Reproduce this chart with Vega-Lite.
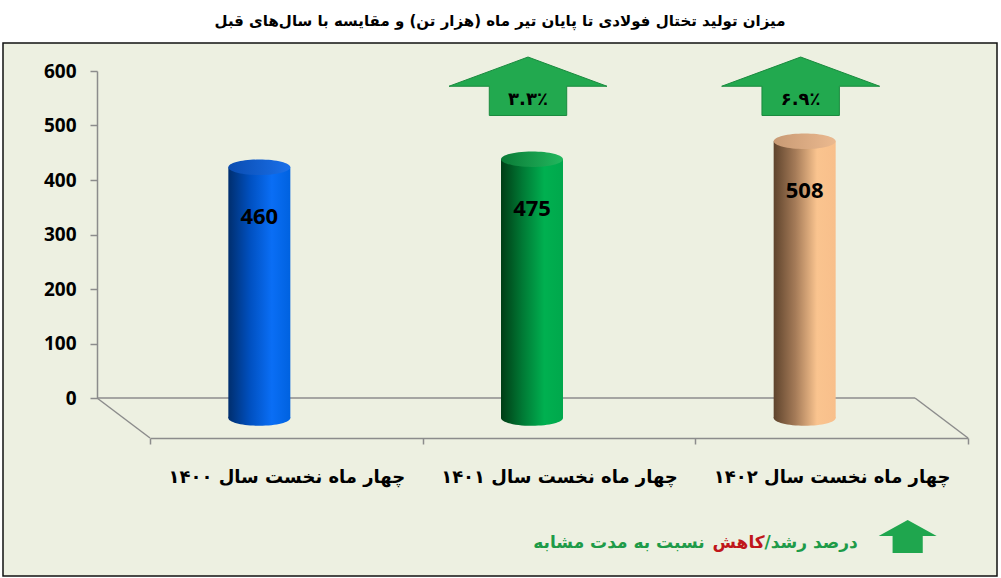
{
  "$schema": "https://vega.github.io/schema/vega-lite/v6.json",
  "width": 994,
  "height": 533,
  "autosize": {"type": "none"},
  "padding": {"left": 3, "top": 43, "right": 4, "bottom": 2},
  "background": "white",
  "view": {"fill": "#EDF0E1", "stroke": "#111111", "strokeWidth": 1.5},
  "title": {
    "text": "میزان تولید تختال فولادی تا پایان تیر ماه (هزار تن) و مقایسه با سال‌های قبل",
    "font": "DejaVu Sans",
    "fontSize": 15,
    "fontWeight": "bold",
    "color": "#000000",
    "anchor": "middle",
    "frame": "group",
    "offset": 14
  },
  "data": {
    "values": [
      {"period": "چهار ماه نخست سال ۱۴۰۰", "year": 1400, "value": 460, "growth": null},
      {"period": "چهار ماه نخست سال ۱۴۰۱", "year": 1401, "value": 475, "growth": "۳.۳٪"},
      {"period": "چهار ماه نخست سال ۱۴۰۲", "year": 1402, "value": 508, "growth": "۶.۹٪"}
    ]
  },
  "encoding": {
    "x": {
      "field": "period",
      "type": "nominal",
      "sort": null,
      "scale": {
        "domain": ["چهار ماه نخست سال ۱۴۰۰", "چهار ماه نخست سال ۱۴۰۱", "چهار ماه نخست سال ۱۴۰۲"],
        "range": [147, 965],
        "paddingInner": 0,
        "paddingOuter": 0
      },
      "axis": {
        "orient": "bottom",
        "offset": -138,
        "title": null,
        "labelAngle": 0,
        "labelLimit": 0,
        "domainColor": "#8C8C8C",
        "domainWidth": 1.5,
        "tickColor": "#8C8C8C",
        "tickWidth": 1.5,
        "tickSize": 6,
        "tickBand": "extent",
        "labelFont": "DejaVu Sans",
        "labelFontWeight": "bold",
        "labelFontSize": 18,
        "labelColor": "#000000",
        "labelPadding": 24
      }
    },
    "y": {
      "field": "value",
      "type": "quantitative",
      "scale": {"domain": [0, 600], "range": [355, 28], "nice": false, "zero": false},
      "axis": {
        "orient": "left",
        "offset": -94,
        "title": null,
        "grid": false,
        "values": [0, 100, 200, 300, 400, 500, 600],
        "domainColor": "#8C8C8C",
        "domainWidth": 1.5,
        "tickColor": "#8C8C8C",
        "tickWidth": 1.5,
        "tickSize": 7,
        "labelFont": "Open Sans",
        "labelFontWeight": "bold",
        "labelFontSize": 19,
        "labelColor": "#000000",
        "labelPadding": 14
      }
    }
  },
  "layer": [
    {
      "transform": [{"filter": "datum.year == 1400"}],
      "mark": {"type": "rule", "color": "#8C8C8C", "strokeWidth": 1.5, "xOffset": -53, "x2Offset": -53},
      "encoding": {
        "x": {"datum": "چهار ماه نخست سال ۱۴۰۰", "bandPosition": 0},
        "x2": {"datum": "چهار ماه نخست سال ۱۴۰۲", "bandPosition": 1},
        "y": {"datum": 0}
      }
    },
    {
      "transform": [{"filter": "datum.year == 1400"}],
      "mark": {"type": "rule", "color": "#8C8C8C", "strokeWidth": 1.5, "xOffset": -53, "y2Offset": 40},
      "encoding": {
        "x": {"datum": "چهار ماه نخست سال ۱۴۰۰", "bandPosition": 0},
        "x2": {"datum": "چهار ماه نخست سال ۱۴۰۰", "bandPosition": 0},
        "y": {"datum": 0},
        "y2": {"datum": 0}
      }
    },
    {
      "transform": [{"filter": "datum.year == 1400"}],
      "mark": {"type": "rule", "color": "#8C8C8C", "strokeWidth": 1.5, "xOffset": -53, "y2Offset": 40},
      "encoding": {
        "x": {"datum": "چهار ماه نخست سال ۱۴۰۲", "bandPosition": 1},
        "x2": {"datum": "چهار ماه نخست سال ۱۴۰۲", "bandPosition": 1},
        "y": {"datum": 0},
        "y2": {"datum": 0}
      }
    },
    {
      "mark": {
        "type": "point",
        "shape": "M-1,0A1,0.25,0,1,0,1,0A1,0.25,0,1,0,-1,0Z",
        "size": 3844,
        "filled": true,
        "opacity": 1,
        "strokeWidth": 0,
        "xOffset": -27,
        "yOffset": 20
      },
      "encoding": {
        "y": {"datum": 0},
        "fill": {
          "condition": [
            {"test": "datum.year == 1401", "value": {"gradient": "linear", "x1": 0, "y1": 0, "x2": 1, "y2": 0, "stops": [{"offset": 0, "color": "#003D15"}, {"offset": 0.35, "color": "#007A35"}, {"offset": 0.7, "color": "#00B050"}, {"offset": 1, "color": "#00A84C"}]}},
            {"test": "datum.year == 1402", "value": {"gradient": "linear", "x1": 0, "y1": 0, "x2": 1, "y2": 0, "stops": [{"offset": 0, "color": "#5E432C"}, {"offset": 0.35, "color": "#A57B58"}, {"offset": 0.7, "color": "#FAC48F"}, {"offset": 1, "color": "#F8BF8B"}]}}
          ],
          "value": {"gradient": "linear", "x1": 0, "y1": 0, "x2": 1, "y2": 0, "stops": [{"offset": 0, "color": "#002E6E"}, {"offset": 0.35, "color": "#0050C0"}, {"offset": 0.7, "color": "#0A6EF5"}, {"offset": 1, "color": "#0062E0"}]}
        }
      }
    },
    {
      "mark": {"type": "bar", "width": 62, "xOffset": -27, "yOffset": 20, "y2Offset": 20},
      "encoding": {
        "y2": {"datum": 0},
        "fill": {
          "condition": [
            {"test": "datum.year == 1401", "value": {"gradient": "linear", "x1": 0, "y1": 0, "x2": 1, "y2": 0, "stops": [{"offset": 0, "color": "#003D15"}, {"offset": 0.35, "color": "#007A35"}, {"offset": 0.7, "color": "#00B050"}, {"offset": 1, "color": "#00A84C"}]}},
            {"test": "datum.year == 1402", "value": {"gradient": "linear", "x1": 0, "y1": 0, "x2": 1, "y2": 0, "stops": [{"offset": 0, "color": "#5E432C"}, {"offset": 0.35, "color": "#A57B58"}, {"offset": 0.7, "color": "#FAC48F"}, {"offset": 1, "color": "#F8BF8B"}]}}
          ],
          "value": {"gradient": "linear", "x1": 0, "y1": 0, "x2": 1, "y2": 0, "stops": [{"offset": 0, "color": "#002E6E"}, {"offset": 0.35, "color": "#0050C0"}, {"offset": 0.7, "color": "#0A6EF5"}, {"offset": 1, "color": "#0062E0"}]}
        }
      }
    },
    {
      "mark": {
        "type": "point",
        "shape": "M-1,0A1,0.25,0,1,0,1,0A1,0.25,0,1,0,-1,0Z",
        "size": 3844,
        "filled": true,
        "opacity": 1,
        "strokeWidth": 0,
        "xOffset": -27,
        "yOffset": 20
      },
      "encoding": {
        "fill": {
          "condition": [
            {"test": "datum.year == 1401", "value": {"gradient": "linear", "x1": 0, "y1": 0, "x2": 1, "y2": 0, "stops": [{"offset": 0, "color": "#0A7A36"}, {"offset": 1, "color": "#22B85E"}]}},
            {"test": "datum.year == 1402", "value": {"gradient": "linear", "x1": 0, "y1": 0, "x2": 1, "y2": 0, "stops": [{"offset": 0, "color": "#C89A74"}, {"offset": 1, "color": "#EBB98F"}]}}
          ],
          "value": {"gradient": "linear", "x1": 0, "y1": 0, "x2": 1, "y2": 0, "stops": [{"offset": 0, "color": "#0A4CB0"}, {"offset": 1, "color": "#1A70EA"}]}
        }
      }
    },
    {
      "mark": {"type": "text", "font": "Open Sans", "fontWeight": "bold", "fontSize": 22, "color": "#000000", "xOffset": -27, "yOffset": 70, "baseline": "middle"},
      "encoding": {"text": {"field": "value", "type": "quantitative"}}
    },
    {
      "transform": [{"filter": "datum.growth != null"}],
      "mark": {
        "type": "point",
        "shape": "M0,-0.37L1,0L0.49,0L0.49,0.37L-0.49,0.37L-0.49,0L-1,0Z",
        "size": 24964,
        "filled": true,
        "opacity": 1,
        "fill": "#22A94F",
        "stroke": "#1A8A3E",
        "strokeWidth": 1,
        "xOffset": -31
      },
      "encoding": {"y": {"datum": 572}}
    },
    {
      "transform": [{"filter": "datum.growth != null"}],
      "mark": {"type": "text", "font": "DejaVu Sans", "fontWeight": "bold", "fontSize": 18, "color": "#000000", "xOffset": -31, "yOffset": 14, "baseline": "middle"},
      "encoding": {"y": {"datum": 572}, "text": {"field": "growth"}}
    },
    {
      "transform": [{"filter": "datum.year == 1402"}],
      "mark": {
        "type": "point",
        "shape": "M0,-0.55L1,0L0.52,0L0.52,0.59L-0.52,0.59L-0.52,0L-1,0Z",
        "size": 3364,
        "filled": true,
        "opacity": 1,
        "fill": "#1FA64E",
        "strokeWidth": 0,
        "xOffset": 76
      },
      "encoding": {"y": {"datum": -253}}
    },
    {
      "transform": [{"filter": "datum.year == 1402"}],
      "mark": {"type": "text", "font": "DejaVu Sans", "fontWeight": "bold", "fontSize": 17, "color": "#1E9B48", "align": "right", "baseline": "middle", "xOffset": 26, "text": "درصد رشد/‏"},
      "encoding": {"y": {"datum": -266}}
    },
    {
      "transform": [{"filter": "datum.year == 1402"}],
      "mark": {"type": "text", "font": "DejaVu Sans", "fontWeight": "bold", "fontSize": 17, "color": "#C0161B", "align": "right", "baseline": "middle", "xOffset": -67, "text": "کاهش"},
      "encoding": {"y": {"datum": -266}}
    },
    {
      "transform": [{"filter": "datum.year == 1402"}],
      "mark": {"type": "text", "font": "DejaVu Sans", "fontWeight": "bold", "fontSize": 17, "color": "#1E9B48", "align": "right", "baseline": "middle", "xOffset": -127, "text": "نسبت به مدت مشابه"},
      "encoding": {"y": {"datum": -266}}
    }
  ]
}
